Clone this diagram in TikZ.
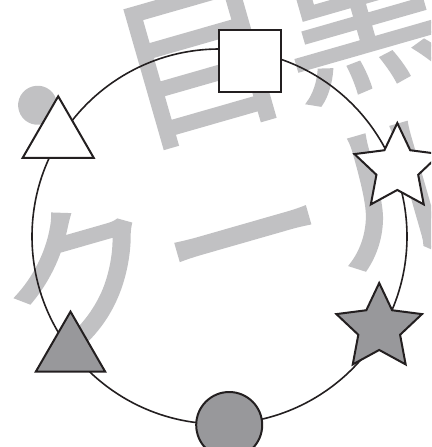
\documentclass[tikz,border=0pt]{standalone}
\usepackage{fontspec}
\usetikzlibrary{shapes.geometric}
\newfontfamily\jpfont[FakeBold=2]{Noto Sans CJK JP}
\definecolor{inkline}{RGB}{35,31,32}
\definecolor{shapegray}{RGB}{152,152,155}
\definecolor{markgray}{RGB}{193,193,195}

\begin{document}
\begin{tikzpicture}[x=1pt, y=-1pt,
    every node/.style={draw=inkline, line width=2pt, inner sep=0pt, outer sep=0pt},
    tri/.style={regular polygon, regular polygon sides=3, minimum size=82pt},
    starshape/.style={star, star points=5, star point ratio=2.05, minimum size=90pt},
    wmark/.style={draw=none, text=markgray, rotate=16,
      font=\jpfont\fontsize{168}{168}\selectfont}]
  \useasboundingbox (0,0) rectangle (431,447);
  \clip (0,0) rectangle (431,447);
  \node[wmark] (wm1) at (200,62) {・目黒};
  \node[wmark] (wm2) at (243,234) {クール};
  \draw[inkline, line width=1.6pt] (219.5,236.5) circle[radius=187.5pt];
  \node[fill=white, minimum size=62pt] (sq) at (249.5,60.8) {};
  \node[tri, fill=white] (wtri) at (58.2,137.3) {};
  \node[starshape, fill=white] (wstar) at (397.3,168) {};
  \node[starshape, fill=shapegray] (gstar) at (379.2,328) {};
  \node[tri, fill=shapegray, minimum size=80pt] (gtri) at (70.5,351.6) {};
  \node[circle, fill=shapegray, minimum size=66pt] (gcirc) at (229.2,425) {};
\end{tikzpicture}
\end{document}
